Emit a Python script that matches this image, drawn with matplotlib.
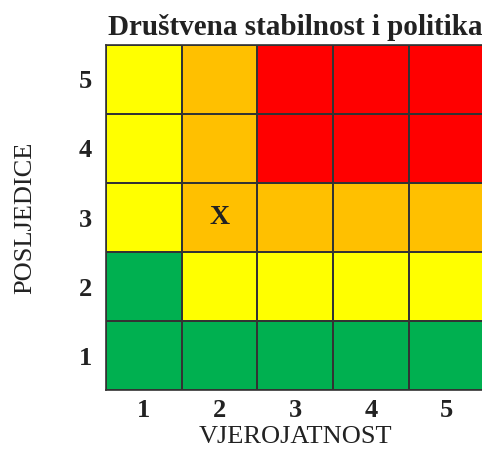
import numpy as np
import matplotlib
matplotlib.use("Agg")
import matplotlib.pyplot as plt
from matplotlib.colors import ListedColormap

# risk levels per cell, row 1 (bottom) to row 5 (top), columns 1..5
# 0 = green, 1 = yellow, 2 = orange, 3 = red
levels = [
    [0, 0, 0, 0, 0],
    [0, 1, 1, 1, 1],
    [1, 2, 2, 2, 2],
    [1, 2, 3, 3, 3],
    [1, 2, 3, 3, 3],
]
colors = ["#00B050", "#FFFF00", "#FFC000", "#FF0000"]
x_labels = ["1", "2", "3", "4", "5"]
y_labels = ["1", "2", "3", "4", "5"]
marker_cell = (2, 3)  # (vjerojatnost, posljedice)

plt.rcParams["font.family"] = ["Liberation Serif", "DejaVu Serif"]

fig = plt.figure(figsize=(4.82, 4.49), dpi=100)
ax = fig.add_axes([0.220, 0.131, 0.785, 0.769])

data = np.array(levels)
ax.pcolormesh(np.arange(0.5, 6.5), np.arange(0.5, 6.5), data,
              cmap=ListedColormap(colors), vmin=-0.5, vmax=3.5,
              edgecolors="#333333", linewidth=1.2)
ax.text(marker_cell[0], marker_cell[1], "X", ha="center", va="center",
        fontsize=20, fontweight="bold", color="#222222")

ax.set_xlim(0.5, 5.5)
ax.set_ylim(0.5, 5.5)
ax.set_xticks(range(1, 6))
ax.set_xticklabels(x_labels, fontsize=19, fontweight="bold", color="#222222")
ax.set_yticks(range(1, 6))
ax.set_yticklabels(y_labels, fontsize=19, fontweight="bold", color="#222222")
ax.tick_params(axis="x", length=0, pad=6)
ax.tick_params(axis="y", length=0, pad=10)
for s in ax.spines.values():
    s.set_color("#333333")
    s.set_linewidth(1.2)

ax.set_xlabel("VJEROJATNOST", fontsize=19, color="#222222", labelpad=3)
ax.set_ylabel("POSLJEDICE", fontsize=19, color="#222222", labelpad=31)
ax.set_title("Društvena stabilnost i politika", fontsize=21,
             fontweight="bold", color="#222222", pad=7)

fig.savefig("out.png", dpi=100)
